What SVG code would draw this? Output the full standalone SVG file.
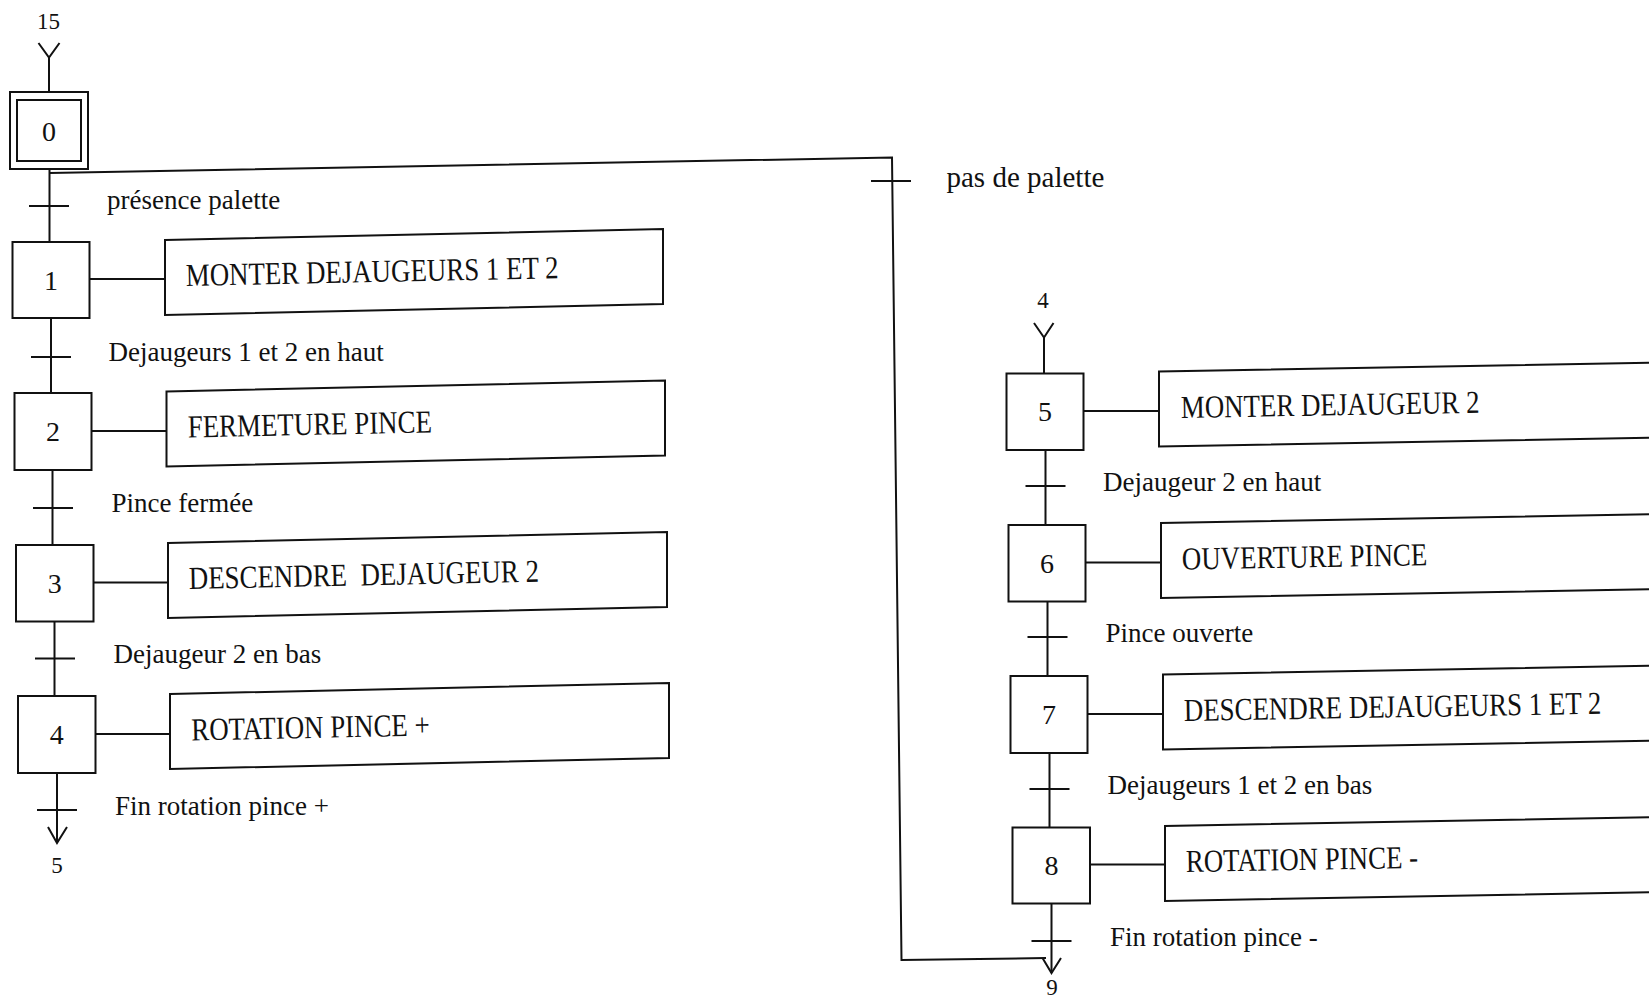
<svg xmlns="http://www.w3.org/2000/svg" width="1649" height="1001" viewBox="0 0 1649 1001">
<style>
.ln{stroke:#111;stroke-width:2;fill:none}
.bx{stroke:#111;stroke-width:2;fill:#fff}
.num{font-family:"Liberation Serif","Times New Roman",serif;font-size:28px;fill:#111;text-anchor:middle}
.ref{font-family:"Liberation Serif","Times New Roman",serif;font-size:23px;fill:#111;text-anchor:middle}
.lbl{font-family:"Liberation Serif","Times New Roman",serif;font-size:27px;fill:#111}
.act{font-family:"Liberation Serif","Times New Roman",serif;font-size:32px;fill:#111;white-space:pre}
</style>
<rect width="1649" height="1001" fill="#fff"/>

<g id="connectors">
  <path class="ln" d="M38.5 43 L49 57.5 L59.5 43 M49 57.5 V92"/>
  <path class="ln" d="M49.5 169 V242"/>
  <path class="ln" d="M51 318 V393"/>
  <path class="ln" d="M52.5 470 V545"/>
  <path class="ln" d="M54.5 621.5 V696"/>
  <path class="ln" d="M57 773 V843 M48 827 L57 843 L67 827"/>
  <path class="ln" d="M29 206 H69 M31 357 H71 M33 508 H73 M35 658.5 H75 M37 810 H77"/>
  <path class="ln" d="M89.5 279 H165 M91.5 431 H166.5 M93.5 582.5 H168 M95.5 734 H170"/>
  <path class="ln" d="M49.5 173 L892 157.5 L901.5 960 L1046 958"/>
  <path class="ln" d="M871 181 H911"/>
  <path class="ln" d="M1034 323 L1044 337.5 L1053.5 323 M1044 337.5 V373.5"/>
  <path class="ln" d="M1045.5 450 V525 M1047.5 601.5 V676 M1049.5 753 V827.5 M1051.5 903.5 V973"/>
  <path class="ln" d="M1042.5 958 L1051.5 973 L1061 958"/>
  <path class="ln" d="M1025.5 486 H1065.5 M1027.5 637 H1067.5 M1029.5 789 H1069.5 M1031.5 941 H1071.5"/>
  <path class="ln" d="M1083.5 411 H1159 M1085.5 562.5 H1161 M1087.5 714 H1163 M1090 864.5 H1165"/>
</g>

<g id="transition-labels">
  <text class="lbl" x="107" y="209">présence palette</text>
  <text class="lbl" x="108.5" y="361">Dejaugeurs 1 et 2 en haut</text>
  <text class="lbl" x="111.5" y="512">Pince fermée</text>
  <text class="lbl" x="113.5" y="663">Dejaugeur 2 en bas</text>
  <text class="lbl" x="115" y="815">Fin rotation pince +</text>
  <text class="lbl" x="946.5" y="187" style="font-size:29px">pas de palette</text>
  <text class="lbl" x="1103" y="491">Dejaugeur 2 en haut</text>
  <text class="lbl" x="1105.5" y="642">Pince ouverte</text>
  <text class="lbl" x="1107.5" y="794">Dejaugeurs 1 et 2 en bas</text>
  <text class="lbl" x="1110" y="946">Fin rotation pince -</text>
  <text class="ref" x="48.5" y="29">15</text>
  <text class="ref" x="57" y="873">5</text>
  <text class="ref" x="1043" y="308">4</text>
  <text class="ref" x="1052" y="995">9</text>
</g>

<g id="step0">
  <rect class="bx" x="10" y="92" width="78" height="77"/>
  <rect class="bx" x="17" y="100" width="64" height="61"/>
  <text class="num" x="49" y="141">0</text>
</g>
<g id="step1">
  <rect class="bx" x="12.5" y="242" width="77" height="76"/>
  <text class="num" x="51" y="290">1</text>
</g>
<g id="step2">
  <rect class="bx" x="14.5" y="393" width="77" height="77"/>
  <text class="num" x="53" y="441">2</text>
</g>
<g id="step3">
  <rect class="bx" x="16" y="545" width="77.5" height="76.5"/>
  <text class="num" x="54.7" y="593">3</text>
</g>
<g id="step4">
  <rect class="bx" x="18" y="696" width="77.5" height="77"/>
  <text class="num" x="56.8" y="744">4</text>
</g>
<g id="step5">
  <rect class="bx" x="1006.5" y="373.5" width="77" height="76.5"/>
  <text class="num" x="1045" y="421">5</text>
</g>
<g id="step6">
  <rect class="bx" x="1008.5" y="525" width="77" height="76.5"/>
  <text class="num" x="1047" y="572.5">6</text>
</g>
<g id="step7">
  <rect class="bx" x="1010.5" y="676" width="77" height="77"/>
  <text class="num" x="1049" y="724">7</text>
</g>
<g id="step8">
  <rect class="bx" x="1012.5" y="827.5" width="77.5" height="76"/>
  <text class="num" x="1051.5" y="875">8</text>
</g>

<g id="action1">
  <polygon class="bx" points="165,240 663,229 663,304 165,315"/>
  <text class="act" transform="translate(186 286) rotate(-1.2) scale(0.84 1)">MONTER DEJAUGEURS 1 ET 2</text>
</g>
<g id="action2">
  <polygon class="bx" points="166.5,391.5 665,380.5 665,455.5 166.5,466.5"/>
  <text class="act" transform="translate(188 437.5) rotate(-1.2) scale(0.84 1)">FERMETURE PINCE</text>
</g>
<g id="action3">
  <polygon class="bx" points="168,543 667,532 667,607 168,618"/>
  <text class="act" transform="translate(189 589) rotate(-1.2) scale(0.84 1)">DESCENDRE  DEJAUGEUR 2</text>
</g>
<g id="action4">
  <polygon class="bx" points="170,694 669,683 669,758 170,769"/>
  <text class="act" transform="translate(191.5 740.5) rotate(-1.2) scale(0.84 1)">ROTATION PINCE +</text>
</g>
<g id="action5">
  <path class="bx" d="M1649 362.7 L1159 371.5 L1159 446.5 L1649 437.7"/>
  <text class="act" transform="translate(1181 418) rotate(-1) scale(0.84 1)">MONTER DEJAUGEUR 2</text>
</g>
<g id="action6">
  <path class="bx" d="M1649 514.2 L1161 523 L1161 598 L1649 589.2"/>
  <text class="act" transform="translate(1182 569.5) rotate(-1) scale(0.84 1)">OUVERTURE PINCE</text>
</g>
<g id="action7">
  <path class="bx" d="M1649 665.7 L1163 674.5 L1163 749.5 L1649 740.7"/>
  <text class="act" transform="translate(1184 721) rotate(-1) scale(0.84 1)">DESCENDRE DEJAUGEURS 1 ET 2</text>
</g>
<g id="action8">
  <path class="bx" d="M1649 817.2 L1165 826 L1165 901 L1649 892.2"/>
  <text class="act" transform="translate(1186 872) rotate(-1) scale(0.84 1)">ROTATION PINCE -</text>
</g>
</svg>
